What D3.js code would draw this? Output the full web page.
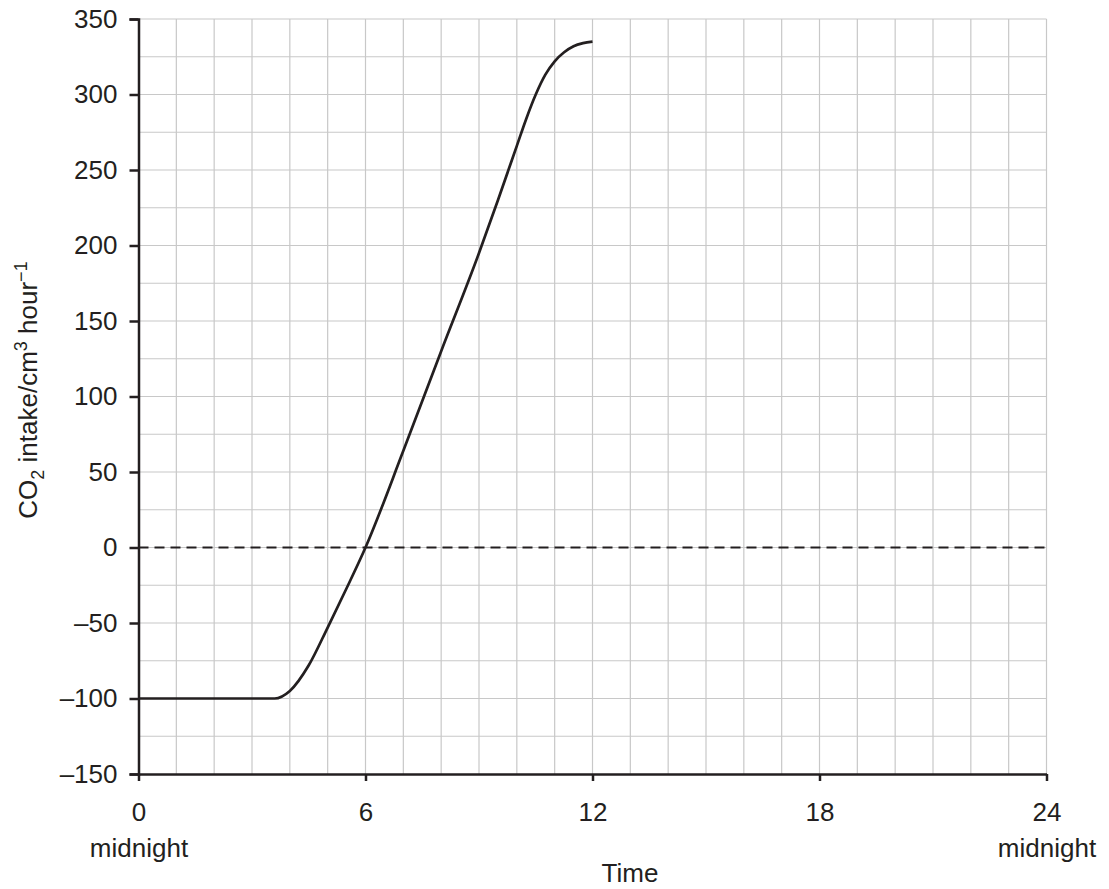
<!DOCTYPE html>
<meta charset="utf-8">
<script src="https://d3js.org/d3.v7.min.js"></script>
<style>
  body { margin: 0; background: #fff; }
  text { font-family: "Liberation Sans", Arial, sans-serif; fill: #231f20; }
</style>
<div id="my_dataviz"></div>
<script>

// data
var hours  = [0, 3.6, 4.0, 4.5, 5.0, 5.5, 6.0, 7.0, 8.0, 9.0, 9.5, 10.0, 10.25, 10.5, 10.75, 11.0, 11.25, 11.5, 11.75, 12.0];
var intake = [-100, -100, -95, -78, -53, -27, 0, 64, 130, 195, 230, 266, 284, 300, 313, 322, 328, 332, 334, 335];

var xTicks = [0, 6, 12, 18, 24];
var xSubLabels = {0: "midnight", 24: "midnight"};
var yTicks = [-150, -100, -50, 0, 50, 100, 150, 200, 250, 300, 350];

var data = hours.map(function(h, i) { return {h: h, v: intake[i]}; });

var W = 1109, H = 889;
var margin = {top: 19, left: 138.5, right: 62.5, bottom: 115};

var svg = d3.select("#my_dataviz")
  .append("svg")
    .attr("width", W)
    .attr("height", H);

var x = d3.scaleLinear()
  .domain([0, 24])
  .range([margin.left, W - margin.right]);

var y = d3.scaleLinear()
  .domain([-150, 350])
  .range([H - margin.bottom, margin.top]);

// grid
svg.append("g")
  .selectAll("line")
  .data(d3.range(1, 25))
  .enter().append("line")
    .attr("x1", function(d) { return x(d); })
    .attr("x2", function(d) { return x(d); })
    .attr("y1", y(-150))
    .attr("y2", y(350))
    .attr("stroke", "#c8c8c8")
    .attr("stroke-width", 1.2);

svg.append("g")
  .selectAll("line")
  .data(d3.range(-125, 351, 25))
  .enter().append("line")
    .attr("x1", x(0))
    .attr("x2", x(24))
    .attr("y1", function(d) { return y(d); })
    .attr("y2", function(d) { return y(d); })
    .attr("stroke", "#c8c8c8")
    .attr("stroke-width", 1.2);

// zero line
svg.append("line")
  .attr("x1", x(0))
  .attr("x2", x(24))
  .attr("y1", y(0))
  .attr("y2", y(0))
  .attr("stroke", "#231f20")
  .attr("stroke-width", 2.2)
  .attr("stroke-dasharray", "10,6");

// Y axis
var yAxis = svg.append("g")
  .attr("transform", "translate(" + x(0) + ",0)")
  .call(d3.axisLeft(y).tickValues(yTicks).tickSize(9).tickPadding(12)
    .tickFormat(function(d) { return d < 0 ? "\u2013" + Math.abs(d) : d; }));
yAxis.select(".domain").attr("stroke", "#231f20").attr("stroke-width", 2.5);
yAxis.selectAll(".tick line").attr("stroke", "#231f20").attr("stroke-width", 2.5);
yAxis.selectAll(".tick text")
  .attr("font-size", 26)
  .attr("font-family", "Liberation Sans, Arial, sans-serif")
  .attr("fill", "#231f20");

// X axis
var xAxis = svg.append("g")
  .attr("transform", "translate(0," + y(-150) + ")")
  .call(d3.axisBottom(x).tickValues(xTicks).tickSize(7).tickSizeOuter(0).tickPadding(22));
xAxis.select(".domain").attr("stroke", "#231f20").attr("stroke-width", 2.5);
xAxis.selectAll(".tick line").attr("stroke", "#231f20").attr("stroke-width", 2.5);
xAxis.selectAll(".tick text")
  .attr("font-size", 26)
  .attr("font-family", "Liberation Sans, Arial, sans-serif")
  .attr("fill", "#231f20");

xAxis.selectAll(".tick")
  .filter(function(d) { return xSubLabels[d]; })
  .append("text")
    .attr("y", 83)
    .attr("text-anchor", "middle")
    .attr("font-size", 26)
    .attr("fill", "#231f20")
    .text(function(d) { return xSubLabels[d]; });

// curve
svg.append("path")
  .datum(data)
  .attr("fill", "none")
  .attr("stroke", "#231f20")
  .attr("stroke-width", 2.7)
  .attr("d", d3.line()
    .curve(d3.curveMonotoneX)
    .x(function(d) { return x(d.h); })
    .y(function(d) { return y(d.v); }));

// axis titles
svg.append("text")
  .attr("x", 630)
  .attr("y", 882)
  .attr("text-anchor", "middle")
  .attr("font-size", 26)
  .text("Time");

var yl = svg.append("text")
  .attr("transform", "translate(37," + 390 + ") rotate(-90)")
  .attr("text-anchor", "middle")
  .attr("font-size", 26);
yl.append("tspan").text("CO");
yl.append("tspan").attr("font-size", 18).attr("dy", 7).text("2");
yl.append("tspan").attr("dy", -7).text(" intake/cm");
yl.append("tspan").attr("font-size", 18).attr("dy", -10).text("3");
yl.append("tspan").attr("dy", 10).text(" hour");
yl.append("tspan").attr("font-size", 18).attr("dy", -10).text("\u22121");

</script>
